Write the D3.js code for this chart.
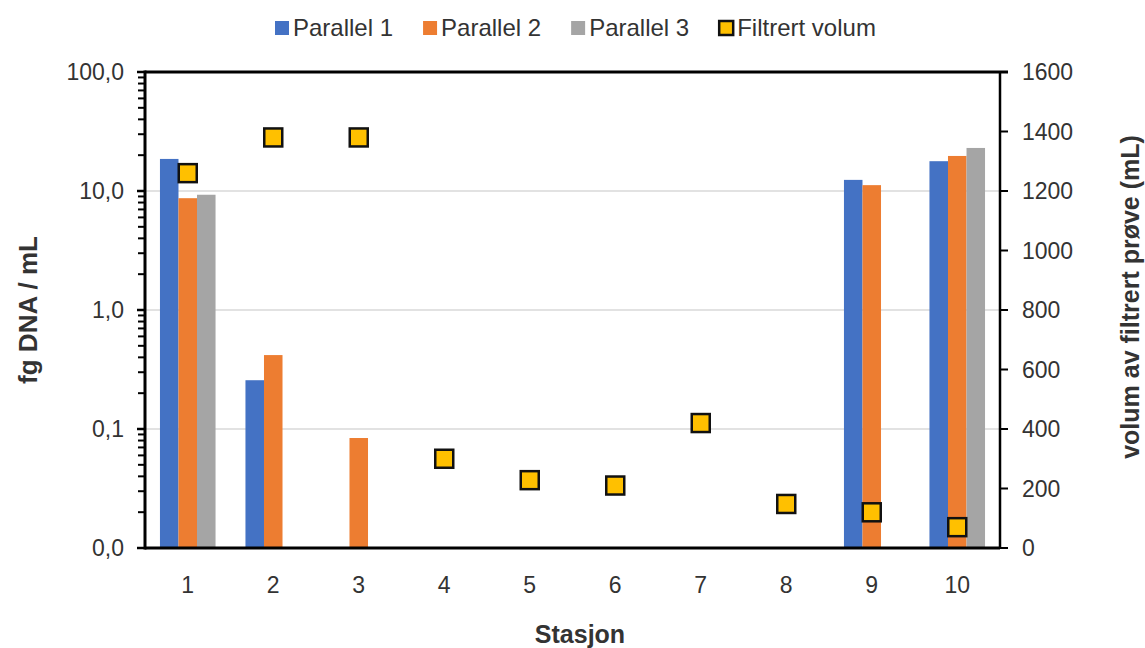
<!DOCTYPE html>
<html>
<head>
<meta charset="utf-8">
<script src="https://cdn.jsdelivr.net/npm/d3@7"></script>
<style>
  body { margin: 0; background: #fff; }
  text { font-family: "Liberation Sans", Arial, sans-serif; fill: #333; }
</style>
</head>
<body>
<script>
// data
const stations = ["1", "2", "3", "4", "5", "6", "7", "8", "9", "10"];
const series = ["Parallel 1", "Parallel 2", "Parallel 3"];
const parallel1 = [18.6, 0.257, null, null, null, null, null, null, 12.4, 17.8];
const parallel2 = [8.7, 0.418, 0.084, null, null, null, null, null, 11.2, 19.7];
const parallel3 = [9.3, null, null, null, null, null, null, null, null, 23.0];
const volum = [1260, 1380, 1380, 300, 228, 210, 420, 148, 120, 70];
const leftTicks = [0.01, 0.1, 1, 10, 100];
const rightTicks = [0, 200, 400, 600, 800, 1000, 1200, 1400, 1600];
const colors = ["#4472C4", "#ED7D31", "#A5A5A5"];
const markerColor = "#FFC000";

const width = 1145, height = 648;
const margin = {top: 72, right: 145, bottom: 100, left: 145};

const svg = d3.select("body").append("svg")
  .attr("width", width)
  .attr("height", height)
  .style("background", "#fff");

const x0 = d3.scaleBand()
  .domain(stations)
  .range([margin.left, width - margin.right])
  .paddingInner(0.35)
  .paddingOuter(0.175);

const x1 = d3.scaleBand()
  .domain(series)
  .range([0, x0.bandwidth()]);

const y = d3.scaleLog()
  .domain([0.01, 100])
  .range([height - margin.bottom, margin.top]);

const y2 = d3.scaleLinear()
  .domain([0, 1600])
  .range([height - margin.bottom, margin.top]);

const x0Left = margin.left, x0Right = width - margin.right;
const yBottom = height - margin.bottom;

// gridlines
svg.append("g")
  .selectAll("line")
  .data(leftTicks.slice(1, -1))
  .join("line")
  .attr("x1", x0Left).attr("x2", x0Right)
  .attr("y1", d => y(d)).attr("y2", d => y(d))
  .attr("stroke", "#d9d9d9")
  .attr("stroke-width", 1.5);

// bars
const barData = [];
stations.forEach((s, i) => {
  [parallel1, parallel2, parallel3].forEach((arr, j) => {
    if (arr[i] != null) barData.push({station: s, series: series[j], value: arr[i], color: colors[j]});
  });
});

svg.append("g")
  .selectAll("rect")
  .data(barData)
  .join("rect")
  .attr("x", d => x0(d.station) + x1(d.series))
  .attr("width", x1.bandwidth())
  .attr("y", d => y(d.value))
  .attr("height", d => y(0.01) - y(d.value))
  .attr("fill", d => d.color);

// left axis
const minorTicks = [];
[0.01, 0.1, 1, 10].forEach(dec => {
  for (let k = 2; k <= 9; k++) minorTicks.push(dec * k);
});

const leftAxis = svg.append("g");
leftAxis.selectAll("line.minor")
  .data(minorTicks)
  .join("line")
  .attr("class", "minor")
  .attr("x1", x0Left - 7).attr("x2", x0Left)
  .attr("y1", d => y(d)).attr("y2", d => y(d))
  .attr("stroke", "#000").attr("stroke-width", 2);

leftAxis.selectAll("line.major")
  .data(leftTicks)
  .join("line")
  .attr("class", "major")
  .attr("x1", x0Left - 8).attr("x2", x0Left)
  .attr("y1", d => y(d)).attr("y2", d => y(d))
  .attr("stroke", "#000").attr("stroke-width", 2.5);

leftAxis.selectAll("text")
  .data(leftTicks)
  .join("text")
  .attr("x", x0Left - 21)
  .attr("y", d => y(d))
  .attr("dy", "0.36em")
  .attr("text-anchor", "end")
  .style("font-size", "23px")
  .text(d => d3.format(".1f")(d).replace(".", ","));

// right axis
const rightAxis = svg.append("g");
rightAxis.append("line")
  .attr("x1", x0Right).attr("x2", x0Right)
  .attr("y1", margin.top - 1).attr("y2", yBottom)
  .attr("stroke", "#000").attr("stroke-width", 2.5);

rightAxis.selectAll("line.tick")
  .data(rightTicks)
  .join("line")
  .attr("class", "tick")
  .attr("x1", x0Right).attr("x2", x0Right + 8)
  .attr("y1", d => y2(d)).attr("y2", d => y2(d))
  .attr("stroke", "#000").attr("stroke-width", 2);

rightAxis.selectAll("text")
  .data(rightTicks)
  .join("text")
  .attr("x", x0Right + 22)
  .attr("y", d => y2(d))
  .attr("dy", "0.36em")
  .style("font-size", "23px")
  .text(d => d);

// frame lines: left, top, bottom
svg.append("line")
  .attr("x1", x0Left).attr("x2", x0Left)
  .attr("y1", margin.top - 1.5).attr("y2", yBottom + 1.5)
  .attr("stroke", "#000").attr("stroke-width", 3);
svg.append("line")
  .attr("x1", x0Left).attr("x2", x0Right + 8)
  .attr("y1", margin.top).attr("y2", margin.top)
  .attr("stroke", "#000").attr("stroke-width", 3);
svg.append("line")
  .attr("x1", x0Left).attr("x2", x0Right)
  .attr("y1", yBottom).attr("y2", yBottom)
  .attr("stroke", "#000").attr("stroke-width", 3);

// markers for filtered volume
const msize = 18;
svg.append("g")
  .selectAll("rect")
  .data(volum)
  .join("rect")
  .attr("x", (d, i) => x0(stations[i]) + x0.bandwidth() / 2 - msize / 2)
  .attr("y", d => y2(d) - msize / 2)
  .attr("width", msize)
  .attr("height", msize)
  .attr("fill", markerColor)
  .attr("stroke", "#111")
  .attr("stroke-width", 2.5);

// category labels
svg.append("g")
  .selectAll("text")
  .data(stations)
  .join("text")
  .attr("x", d => x0(d) + x0.bandwidth() / 2)
  .attr("y", 593)
  .attr("text-anchor", "middle")
  .style("font-size", "23px")
  .text(d => d);

// axis titles
svg.append("text")
  .attr("x", 580).attr("y", 643)
  .attr("text-anchor", "middle")
  .style("font-size", "25px").style("font-weight", "bold")
  .text("Stasjon");

svg.append("text")
  .attr("transform", `translate(37, ${(margin.top + yBottom) / 2}) rotate(-90)`)
  .attr("text-anchor", "middle")
  .style("font-size", "26px").style("font-weight", "bold")
  .text("fg DNA / mL");

svg.append("text")
  .attr("transform", `translate(1139, ${(margin.top + yBottom) / 2 - 13}) rotate(-90)`)
  .attr("text-anchor", "middle")
  .style("font-size", "25px").style("font-weight", "bold")
  .text("volum av filtrert prøve (mL)");

// legend
const legendItems = series.map((s, i) => ({label: s, fill: colors[i], stroke: "none"}))
  .concat([{label: "Filtrert volum", fill: markerColor, stroke: "#111"}]);

const legend = svg.append("g");
let lx = 275;
legendItems.forEach(item => {
  const g = legend.append("g").attr("transform", `translate(${lx}, 0)`);
  g.append("rect")
    .attr("x", 0).attr("y", 21)
    .attr("width", 14).attr("height", 14)
    .attr("fill", item.fill)
    .attr("stroke", item.stroke)
    .attr("stroke-width", item.stroke === "none" ? 0 : 2.5);
  const t = g.append("text")
    .attr("x", 18).attr("y", 36)
    .style("font-size", "24px")
    .text(item.label);
  lx += 18 + t.node().getComputedTextLength() + 30;
});
</script>
</body>
</html>
